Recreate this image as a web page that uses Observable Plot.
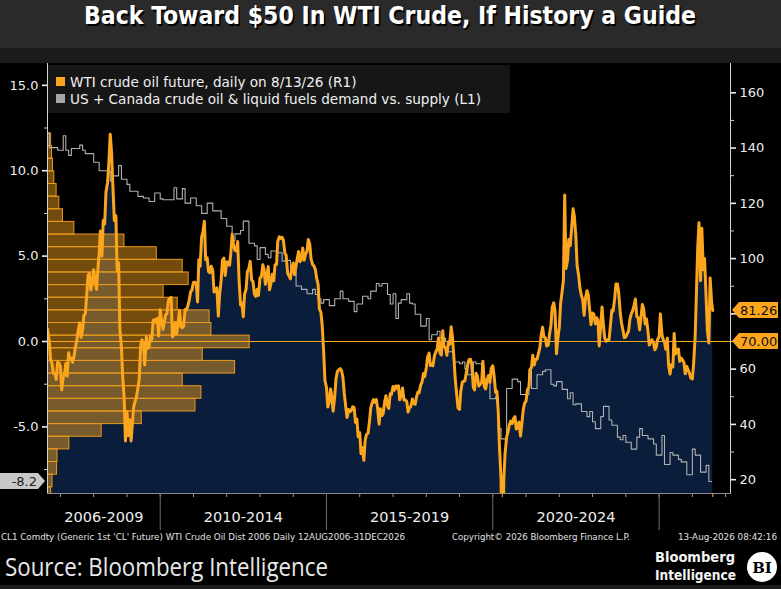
<!DOCTYPE html>
<html>
<head>
<meta charset="utf-8">
<script src="https://cdn.jsdelivr.net/npm/d3@7"></script>
<script src="https://cdn.jsdelivr.net/npm/@observablehq/plot@0.6"></script>
<style>
  html, body { margin: 0; padding: 0; background: #000; }
  #wrap { position: relative; width: 781px; height: 589px; overflow: hidden; background: #000; }
  #wrap > svg { position: absolute; left: 0; max-width: none; }
</style>
</head>
<body>
<div id="wrap"></div>
<script>
// ---------------- texts ----------------
const chartTitle = "Back Toward $50 In WTI Crude, If History a Guide";
const seriesNames = ["WTI crude oil future, daily on 8/13/26 (R1)", "US + Canada crude oil & liquid fuels demand vs. supply (L1)"];
const footerLeft = "CL1 Comdty (Generic 1st 'CL' Future) WTI Crude Oil Dist 2006 Daily 12AUG2006-31DEC2026";
const footerMid = "Copyright\u00A9 2026 Bloomberg Finance L.P.";
const footerRight = "13-Aug-2026 08:42:16";
const sourceText = "Source: Bloomberg Intelligence";
const logoLines = ["Bloomberg", "Intelligence"];

// ---------------- axes / categories ----------------
const periodLabels = ["2006-2009", "2010-2014", "2015-2019", "2020-2024"];
const periodStarts = ["2006-08-12", "2010-01-01", "2015-01-01", "2020-01-01"];
const periodEnds   = ["2010-01-01", "2015-01-01", "2020-01-01", "2025-01-01"];
const dividerDates = ["2010-01-01", "2015-01-01", "2020-01-01", "2025-01-01"];
const rightTicks = [20, 40, 60, 80, 100, 120, 140, 160];
const rightHiddenLabels = [80]; // covered by the last-price tag
const rightMinorTicks = [30, 50, 70, 90, 110, 130, 150];
const leftTicks = [-5, 0, 5, 10, 15];
const leftMinorTicks = [-7.5, -2.5, 2.5, 7.5, 12.5];
const leftZeroPrice = 70;      // L1 0.0 sits on R1 70
const pricePerLeftUnit = 6.18; // R1 dollars per L1 unit
const referenceLevel = 70;
const chartStart = "2006-08-12", chartEnd = "2026-12-31";

// ---------------- WTI (R1), values on the 1st and 15th of each month ----------------
const firstDay = "2006-08-14", firstPrice = 74.4;
const wti2006 = [null,null,null,null,null,null,null,null,null,null,null,null,null,null,null, 74.0, 70.0, 63.5, 62.0, 58.5, 58.5, 56.3, 62.5, 62.2];
const wti2007 = [61.0, 52.5, 57.3, 58.0, 62.0, 57.5, 65.9, 63.6, 64.0, 62.5, 65.0, 68.0, 70.7, 74.0, 76.8, 71.5, 74.0, 79.5, 80.0, 86.0, 94.0, 94.6, 88.7, 91.0];
const wti2008 = [96.0, 91.9, 88.9, 95.5, 101.8, 110.0, 100.9, 113.8, 112.5, 124.0, 127.4, 134.0, 145.0, 138.7, 125.0, 113.8, 115.5, 95.7, 98.5, 74.5, 67.8, 57.0, 49.3, 34.0];
const wti2009 = [44.6, 36.0, 41.7, 34.0, 40.2, 46.3, 48.4, 49.9, 53.2, 56.3, 68.6, 70.6, 69.3, 61.5, 71.6, 67.5, 68.0, 72.0, 70.8, 77.6, 78.0, 76.9, 78.4, 72.0];
const wti2010 = [81.5, 78.0, 74.4, 77.0, 79.7, 80.0, 84.9, 85.5, 86.0, 71.6, 72.6, 76.9, 72.9, 76.6, 81.3, 75.4, 75.0, 75.6, 81.6, 81.3, 82.9, 84.9, 88.0, 88.6];
const wti2011 = [91.4, 91.5, 90.9, 84.3, 99.6, 97.2, 107.9, 109.7, 113.5, 99.6, 100.3, 95.3, 94.9, 97.2, 95.7, 87.9, 88.9, 89.4, 79.2, 86.8, 92.2, 99.4, 100.2, 93.9];
const wti2012 = [98.8, 98.7, 97.6, 101.8, 108.8, 105.1, 103.0, 102.8, 106.2, 92.8, 83.2, 84.0, 79.0, 87.1, 88.9, 95.3, 96.5, 99.0, 92.2, 91.9, 87.1, 86.3, 88.9, 86.7];
const wti2013 = [93.1, 93.3, 97.8, 95.9, 90.7, 93.4, 97.1, 88.7, 91.0, 94.3, 92.0, 97.8, 97.9, 106.3, 107.9, 107.3, 107.7, 106.6, 102.0, 101.2, 94.6, 93.8, 92.7, 96.6];
const wti2014 = [98.4, 94.2, 97.5, 100.3, 102.6, 98.9, 99.7, 103.8, 99.4, 101.5, 102.7, 106.9, 105.3, 100.0, 97.9, 97.4, 96.0, 92.9, 90.7, 81.8, 80.5, 75.8, 66.2, 55.9];
const wti2015 = [53.3, 46.3, 48.2, 52.8, 49.8, 44.8, 50.0, 56.4, 59.2, 59.7, 60.2, 59.5, 56.9, 51.4, 46.2, 42.5, 45.4, 44.6, 45.1, 46.4, 46.1, 40.7, 41.9, 35.5];
const wti2016 = [37.0, 29.4, 31.6, 27.0, 34.4, 36.3, 36.8, 40.4, 45.9, 47.7, 49.0, 48.0, 49.0, 45.9, 40.1, 45.7, 43.2, 43.9, 48.2, 50.4, 46.7, 45.8, 51.1, 50.9];
const wti2017 = [53.7, 52.4, 53.9, 53.1, 54.0, 48.9, 50.6, 53.2, 48.8, 48.9, 48.3, 44.5, 46.0, 46.5, 49.2, 47.6, 47.3, 49.9, 51.7, 51.5, 54.3, 55.3, 58.4, 57.3];
const wti2018 = [60.4, 64.3, 65.8, 61.3, 61.6, 61.2, 64.9, 66.2, 67.3, 71.3, 65.8, 65.1, 73.9, 68.1, 67.7, 65.0, 69.8, 69.0, 75.3, 71.8, 63.7, 56.5, 50.9, 46.0];
const wti2019 = [45.4, 52.1, 55.3, 55.6, 55.8, 58.5, 61.6, 63.4, 63.6, 62.0, 53.5, 52.5, 58.5, 57.6, 53.9, 54.5, 55.1, 62.9, 53.6, 52.8, 56.2, 57.7, 55.2, 60.2];
const wti2020 = [61.2, 57.8, 51.6, 52.0, 44.8, 31.7, 20.3, -37.6, 19.8, 29.4, 35.4, 37.1, 39.8, 41.2, 40.3, 42.0, 42.8, 38.3, 38.7, 40.9, 35.8, 40.1, 45.3, 47.6];
const wti2021 = [48.5, 52.4, 53.6, 60.0, 60.6, 65.0, 61.5, 63.5, 63.6, 65.4, 67.7, 72.1, 75.2, 71.7, 71.3, 68.4, 68.6, 72.6, 75.9, 82.3, 84.0, 80.9, 65.6, 70.9];
const wti2022 = [75.2, 83.8, 88.2, 92.1, 123.0, 96.4, 99.3, 106.9, 104.7, 110.5, 118.0, 115.3, 108.4, 97.6, 93.9, 89.4, 86.6, 85.1, 79.5, 85.6, 88.4, 86.9, 81.2, 76.1];
const wti2023 = [80.3, 79.9, 76.4, 78.6, 77.7, 68.4, 75.7, 82.5, 75.7, 71.1, 70.1, 70.6, 70.6, 75.4, 81.4, 81.0, 85.6, 90.8, 90.8, 87.7, 80.4, 76.7, 74.1, 71.4];
const wti2024 = [71.7, 72.7, 73.8, 78.0, 80.0, 81.0, 83.2, 85.4, 79.0, 78.6, 74.2, 78.5, 83.4, 81.9, 76.3, 78.2, 73.6, 68.7, 69.8, 70.6, 69.5, 67.0, 68.0, 70.7];
const wti2025 = [71.7, 80.0, 72.5, 70.7, 69.8, 67.2, 71.2, 61.3, 58.2, 61.6, 60.8, 72.9, 65.5, 66.5, 67.3, 62.8, 64.0, 63.3, 62.4, 58.3, 61.0, 59.7, 58.5, 56.8];
const wti2026 = [56.5, 62.0, 72.0, 88.0, 104.0, 113.0, 92.0, 111.0, 96.0, 100.0, 86.0, 74.0, 69.5, 93.0, 84.0];
const lastDay = "2026-08-13", lastPrice = 81.26;

// ---------------- US + Canada demand vs supply (L1), monthly steps ----------------
const grayMonths = ["2006-08","2006-09","2006-12","2007-02","2007-03","2007-04","2007-05","2007-08","2007-09","2007-10","2008-01","2008-03","2008-07","2008-08","2008-10","2008-11","2009-01","2009-02","2009-05","2009-07","2009-09","2009-11","2010-01","2010-02","2010-06","2010-07","2010-09","2010-10","2010-12","2011-02","2011-04","2011-06","2011-08","2011-11","2012-01","2012-03","2012-04","2012-06","2012-07","2012-09","2012-11","2012-12","2013-01","2013-03","2013-04","2013-05","2013-07","2013-09","2013-10","2013-12","2014-01","2014-02","2014-04","2014-06","2014-08","2014-09","2014-10","2014-11","2014-12","2015-02","2015-04","2015-06","2015-07","2015-09","2015-11","2015-12","2016-02","2016-04","2016-05","2016-07","2016-08","2016-09","2016-11","2016-12","2017-01","2017-02","2017-03","2017-04","2017-06","2017-07","2017-08","2017-09","2017-11","2018-01","2018-02","2018-03","2018-05","2018-06","2018-08","2018-09","2018-11","2019-01","2019-02","2019-03","2019-04","2019-06","2019-07","2019-09","2019-11","2019-12","2020-02","2020-03","2020-04","2020-06","2020-08","2020-10","2020-11","2021-02","2021-03","2021-05","2021-07","2021-08","2021-10","2021-11","2021-12","2022-02","2022-04","2022-05","2022-06","2022-07","2022-09","2022-11","2022-12","2023-01","2023-02","2023-04","2023-05","2023-07","2023-08","2023-10","2023-11","2023-12","2024-01","2024-03","2024-05","2024-06","2024-07","2024-09","2024-11","2024-12","2025-02","2025-03","2025-05","2025-06","2025-08","2025-09","2025-11","2026-01","2026-02","2026-04","2026-06","2026-07","2026-08"];
const grayValues = [12.2,11.35,11.2,12.05,11.2,10.9,11.3,11.5,11.2,11.0,10.5,10.0,9.4,9.7,10.3,9.5,9.2,8.8,8.5,8.4,8.2,8.7,8.35,8.3,9.0,8.35,8.95,8.1,8.4,7.95,7.5,8.1,7.65,7.2,6.75,5.9,6.3,6.5,7.05,5.75,5.6,4.8,5.5,5.1,4.9,5.3,5.2,4.7,4.75,4.3,4.1,3.25,3.05,2.8,3.05,2.75,2.5,2.25,2.45,2.1,2.5,2.95,2.5,2.35,1.75,2.2,2.65,2.5,2.95,3.4,3.25,3.4,2.75,2.2,2.8,1.35,2.25,2.45,2.8,2.25,2.2,1.6,0.9,1.35,0.1,0.4,0.6,0.2,0.0,-0.6,-1.2,-1.3,-1.2,-1.6,-1.95,-1.2,-1.3,-2.2,-2.25,-3.35,-3.25,-5.1,-5.7,-2.75,-2.2,-2.35,-3.1,-1.65,-2.75,-1.95,-1.75,-1.65,-2.5,-2.6,-2.35,-2.8,-3.35,-3.0,-3.7,-3.65,-4.1,-4.4,-4.1,-4.7,-5.1,-4.4,-3.8,-4.6,-4.9,-5.6,-5.75,-5.5,-5.9,-6.3,-5.6,-5.1,-5.5,-5.7,-6.0,-6.65,-5.5,-7.2,-6.5,-6.65,-6.9,-7.05,-7.8,-6.3,-6.65,-7.65,-7.25,-8.2,-8.2];

// ---------------- price distribution (40 bins from min to max, trading days) ----------------
const histMin = -37.63, histMax = 145.29, histBins = 40;
const histCounts = [1,0,0,0,0,0,0,0,0,0,2, 8,11,21,22,48,119,207,325,338,297,412,341,444,360,356,286,255,310,297,240,169,59,34,26,20,15,12,10,8];
const histAxisMax = 1500;

// ---------------- colours ----------------
const orange = "#fca61e", navy = "#0a1d3b", grayLine = "#b0b0b0", axisColor = "#d0d0d0";

// ---------------- build data ----------------
const wtiYears = d3.range(2006, 2027);
const wtiByYear = [wti2006,wti2007,wti2008,wti2009,wti2010,wti2011,wti2012,wti2013,wti2014,wti2015,wti2016,wti2017,wti2018,wti2019,wti2020,wti2021,wti2022,wti2023,wti2024,wti2025,wti2026];
const wtiData = [{date: new Date(firstDay), price: firstPrice}];
wtiByYear.forEach((vals, j) => vals.forEach((v, i) => {
  if (v != null) wtiData.push({date: new Date(Date.UTC(wtiYears[j], i >> 1, i % 2 ? 15 : 1)), price: v});
}));
wtiData.push({date: new Date(lastDay), price: lastPrice});

const toPrice = v => leftZeroPrice + pricePerLeftUnit * v;
const grayData = grayMonths.map((m, i) => ({date: new Date(m + "-01"), value: grayValues[i]}));
const lastGray = grayValues[grayValues.length - 1];

const binW = (histMax - histMin) / histBins;
const histData = histCounts.map((c, k) => ({lo: histMin + k * binW, hi: histMin + (k + 1) * binW, count: c})).filter(d => d.count > 0);

const periods = periodLabels.map((label, i) => ({label, mid: new Date((+new Date(periodStarts[i]) + +new Date(periodEnds[i])) / 2)}));
const yearTicks = d3.utcYears(new Date("2007-01-01"), new Date("2027-01-02"));
const minPoint = d3.least(wtiData, d => d.price);

// ---------------- layout ----------------
const W = 781, H = 589, plotTop = 63, plotH = 467;
const mL = 47, mR = 51, mB = 37;
const yDomain = [15, 170.6];
const xDomain = [new Date(chartStart), new Date(chartEnd)];
const common = {width: W, height: plotH, marginTop: 0, marginBottom: mB, marginLeft: mL, marginRight: mR};
const font = "'DejaVu Sans', sans-serif";
const condensed = "'DejaVu Sans Condensed', 'DejaVu Sans', sans-serif";
const wrap = document.getElementById("wrap");

// ---------------- decoration layer (title, legend, footer) ----------------
const deco = d3.select(wrap).append("svg").attr("width", W).attr("height", H).style("top", "0px");
deco.append("rect").attr("width", W).attr("height", 48).attr("fill", "#2a2a2a");
deco.append("rect").attr("y", 48).attr("width", W).attr("height", 15).attr("fill", "#1b1b1b");
deco.append("rect").attr("y", 585).attr("width", W).attr("height", 4).attr("fill", "#1b1b1b");
[[1.5, "#000"], [0, "#ffffff"]].forEach(([o, c]) => {
  deco.append("text").attr("x", 390 + o).attr("y", 24 + o).attr("text-anchor", "middle")
    .attr("font-family", condensed).attr("font-weight", "bold").attr("font-size", 25)
    .attr("textLength", 612).attr("lengthAdjust", "spacingAndGlyphs").attr("fill", c).text(chartTitle);
});
// legend
deco.append("rect").attr("x", 48).attr("y", 65).attr("width", 462).attr("height", 48).attr("fill", "#161616");
[[orange, 77, 87], ["#a6a6a6", 94, 104]].forEach(([c, sy, by], i) => {
  deco.append("rect").attr("x", 56).attr("y", sy).attr("width", 9).attr("height", 9).attr("fill", c);
  deco.append("text").attr("x", 70).attr("y", by).attr("font-family", font).attr("font-size", 13.6)
    .attr("fill", "#f0f0f0").text(seriesNames[i]);
});
// footer
const small = (t, x, len) => deco.append("text").attr("x", x).attr("y", 540)
  .attr("font-family", condensed).attr("font-size", 9.5)
  .attr("textLength", len).attr("lengthAdjust", "spacingAndGlyphs").attr("fill", "#e0e0e0").text(t);
small(footerLeft, 1, 404);
small(footerMid, 452, 178);
small(footerRight, 678, 99);
deco.append("text").attr("x", 5).attr("y", 576).attr("font-family", "'Open Sans', sans-serif").attr("font-size", 25)
  .attr("textLength", 323).attr("lengthAdjust", "spacingAndGlyphs").attr("fill", "#e8e8e8").text(sourceText);
logoLines.forEach((t, i) => deco.append("text").attr("x", 655).attr("y", 562 + i * 18).attr("font-family", condensed)
  .attr("font-weight", "bold").attr("font-size", 14.5).attr("textLength", i ? 81 : 80).attr("lengthAdjust", "spacingAndGlyphs")
  .attr("fill", "#f4f4f4").text(t));
deco.append("circle").attr("cx", 762).attr("cy", 567).attr("r", 15).attr("fill", "#fff");
deco.append("text").attr("x", 762).attr("y", 572.5).attr("text-anchor", "middle").attr("font-family", "'DejaVu Serif', serif")
  .attr("font-weight", "bold").attr("font-size", 15).attr("fill", "#000").text("BI");

// ---------------- layer 1: navy area ----------------
const basePlot = Plot.plot({
  ...common,
  style: {background: "transparent"},
  x: {type: "utc", domain: xDomain, insetRight: 5, axis: null},
  y: {domain: yDomain, axis: null},
  marks: [
    Plot.areaY(wtiData, {x: "date", y1: yDomain[0], y2: "price", fill: navy, clip: true})
  ]
});
basePlot.style.top = plotTop + "px";
wrap.appendChild(basePlot);

// ---------------- layer 2: distribution bars ----------------
const histPlot = Plot.plot({
  ...common,
  style: {background: "transparent"},
  x: {domain: [0, histAxisMax], axis: null},
  y: {domain: yDomain, axis: null},
  marks: [
    Plot.rect(histData, {x1: 0, x2: "count", y1: "lo", y2: "hi", fill: "#f5a21c", fillOpacity: 0.47,
      stroke: "#e99a1e", strokeWidth: 1, clip: true})
  ]
});
histPlot.style.top = plotTop + "px";
wrap.appendChild(histPlot);

// ---------------- layer 3: lines and axes ----------------
const linePlot = Plot.plot({
  ...common,
  style: {background: "transparent", fontFamily: font, fontSize: "13px", color: "#eeeeee"},
  x: {type: "utc", domain: xDomain, insetRight: 5},
  y: {domain: yDomain},
  marks: [
    Plot.ruleY([referenceLevel], {stroke: orange, strokeWidth: 1}),
    Plot.line(grayData, {x: "date", y: d => toPrice(d.value), curve: "step-after", stroke: grayLine, strokeWidth: 1.1, clip: true}),
    Plot.line(wtiData, {x: "date", y: "price", stroke: orange, strokeWidth: 3, clip: true}),
    Plot.frame({anchor: "left", stroke: axisColor}),
    Plot.frame({anchor: "right", stroke: axisColor}),
    Plot.frame({anchor: "bottom", stroke: "#8a8a8a"}),
    Plot.axisY({anchor: "left", ticks: leftTicks.map(toPrice), tickSize: 5, tickPadding: 4, strokeWidth: 1.6,
      tickFormat: d => ((d - leftZeroPrice) / pricePerLeftUnit).toFixed(1), label: null, color: "#eeeeee"}),
    Plot.axisY({anchor: "left", ticks: leftMinorTicks.map(toPrice), tickSize: 3, tickFormat: () => "", label: null, color: "#cccccc"}),
    Plot.axisY({anchor: "right", ticks: rightTicks, tickSize: 5, tickPadding: 4, strokeWidth: 1.6, label: null, color: "#eeeeee",
      tickFormat: d => rightHiddenLabels.includes(d) ? "" : String(d)}),
    Plot.axisY({anchor: "right", ticks: rightMinorTicks, tickSize: 3, tickFormat: () => "", label: null, color: "#cccccc"}),
    Plot.axisX({anchor: "bottom", ticks: yearTicks, tickSize: 4, tickFormat: () => "", label: null, color: "#9a9a9a"}),
    Plot.axisX({anchor: "bottom", ticks: dividerDates.map(d => new Date(d)), tickSize: 38, tickFormat: () => "", label: null, color: "#6e6e6e"}),
    Plot.axisX({anchor: "bottom", ticks: [minPoint.date, new Date(lastDay)], tickSize: 4, tickFormat: () => "", label: null, color: orange}),
    Plot.text(periods, {x: "mid", text: "label", frameAnchor: "bottom", dy: 28, fill: "#eeeeee", fontSize: 14.5})
  ]
});
linePlot.style.top = plotTop + "px";
wrap.appendChild(linePlot);

// value tags placed with the plot's own y scale
const ty = linePlot.scale("y");
const frameRight = W - mR, frameLeft = mL;
const tags = d3.select(linePlot).append("g");
function rightTag(value, label) {
  const y = ty.apply(value);
  tags.append("path").attr("d", `M${frameRight + 2},${y} L${frameRight + 9},${y - 8} H${W - 3} V${y + 8} H${frameRight + 9} Z`).attr("fill", orange);
  tags.append("text").attr("x", frameRight + 10).attr("y", y).attr("dy", "0.36em").attr("text-anchor", "start")
    .attr("font-family", font).attr("font-size", 13).attr("fill", "#111").text(label);
}
rightTag(lastPrice, lastPrice.toFixed(2));
rightTag(referenceLevel, referenceLevel.toFixed(2));
{
  const y = ty.apply(toPrice(lastGray));
  tags.append("path").attr("d", `M0,${y - 8} H${frameLeft - 9} L${frameLeft - 2},${y} L${frameLeft - 9},${y + 8} H0 Z`).attr("fill", "#c8c8c8");
  tags.append("text").attr("x", frameLeft - 10).attr("y", y).attr("dy", "0.36em").attr("text-anchor", "end")
    .attr("font-family", font).attr("font-size", 13).attr("fill", "#222").text(lastGray.toFixed(1));
}
</script>
</body>
</html>
